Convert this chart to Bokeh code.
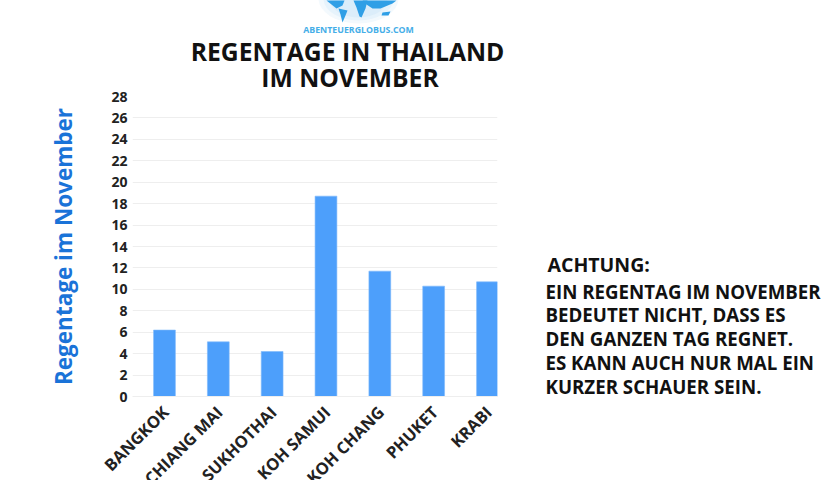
from bokeh.plotting import figure
from bokeh.models import Range1d, FixedTicker, ColumnDataSource
from bokeh.core.properties import value
from bokeh.embed import file_html
from bokeh.resources import INLINE

cities = ["BANGKOK", "CHIANG MAI", "SUKHOTHAI", "KOH SAMUI", "KOH CHANG", "PHUKET", "KRABI"]
rain_days = [6.2, 5.1, 4.2, 18.7, 11.7, 10.3, 10.7]
y_ticks = list(range(0, 30, 2))
title_lines = ["REGENTAGE IN THAILAND", "IM NOVEMBER"]
y_title = "Regentage im November"
logo_text = "ABENTEUERGLOBUS.COM"
note_head = "ACHTUNG:"
note_lines = ["EIN REGENTAG IM NOVEMBER", "BEDEUTET NICHT, DASS ES", "DEN GANZEN TAG REGNET.",
              "ES KANN AUCH NUR MAL EIN", "KURZER SCHAUER SEIN."]

W, H = 840, 480
FONT = "Open Sans"
X0, X1, Y0, Y1 = -0.594, 6.186, 0, 28
L, R, T, B = 132, 497, 96, 396
dx = lambda px: X0 + (px - L) / (R - L) * (X1 - X0)
dy = lambda py: Y0 + (B - py) / (B - T) * (Y1 - Y0)

idx = list(range(len(cities)))
p = figure(width=W, height=H, output_backend="svg", toolbar_location=None,
           x_range=Range1d(X0, X1), y_range=Range1d(Y0, Y1),
           min_border_left=L, min_border_right=W - R, min_border_top=T, min_border_bottom=H - B)
p.outline_line_color = None
p.background_fill_color = "white"
p.border_fill_color = "white"

p.vbar(x=idx, top=rain_days, width=0.405, color="#4d9ffb", line_color="#7db8fb", line_width=0.6)

p.xgrid.visible = False
p.ygrid.grid_line_color = "#eeeeee"
p.ygrid.ticker = FixedTicker(ticks=y_ticks)

ya = p.yaxis[0]
ya.ticker = FixedTicker(ticks=y_ticks)
ya.axis_line_color = None
ya.major_tick_line_color = None
ya.minor_tick_line_color = None
ya.major_tick_out = 0
ya.major_label_text_font = FONT
ya.major_label_text_font_style = "bold"
ya.major_label_text_font_size = "14px"
ya.major_label_text_color = "#222222"
ya.major_label_standoff = 5
ya.axis_label = y_title
ya.axis_label_text_font = FONT
ya.axis_label_text_font_style = "bold"
ya.axis_label_text_font_size = "22.5px"
ya.axis_label_text_color = "#1a73d8"
ya.axis_label_standoff = 29

xa = p.xaxis[0]
xa.ticker = FixedTicker(ticks=[])
xa.axis_line_color = "#eeeeee"
xa.major_tick_line_color = None
xa.minor_tick_line_color = None
xa.major_tick_out = 0
xa.major_label_standoff = 0

src = ColumnDataSource(dict(x=idx, y=[0] * len(idx), t=cities))
p.text(x="x", y="y", text="t", source=src, angle=45, angle_units="deg", text_align="right",
       text_baseline="middle", x_offset=1, y_offset=12.5, text_font=value(FONT),
       text_font_style="bold", text_font_size="16.5px", text_color="#222222", level="overlay")


def label(txt, x, y, size, color="#111111", align="left"):
    p.text(x=[dx(x)], y=[dy(y)], text=[txt], text_font=value(FONT), text_font_size=size,
           text_font_style="bold", text_color=color, text_align=align,
           text_baseline="middle", level="overlay")


# logo: pale globe with continents
for w, h, a in [(80, 50, 0.25), (70, 44, 0.35), (58, 38, 0.5)]:
    p.ellipse(x=[dx(358)], y=[dy(-2)], width=w / (R - L) * (X1 - X0), height=h / (B - T) * (Y1 - Y0),
              fill_color="#cfe8f8", fill_alpha=a, line_color=None, level="overlay")
for xs, ys in [([326, 344, 342, 336, 331], [0, 0, 5, 8, 4]),
               ([338, 347, 345, 342, 340], [8, 10, 15, 22, 14]),
               ([353, 367, 365, 361, 359, 356], [0, 0, 8, 17, 16, 7]),
               ([362, 396, 392, 380, 372, 366], [0, 0, 3, 8, 8, 4]),
               ([382, 390, 388, 381], [12, 11, 15, 15])]:
    p.patch(x=[dx(v) for v in xs], y=[dy(v) for v in ys], fill_color="#2f9fe6", line_color=None, level="overlay")

for t, y, cx in zip(title_lines, [50.5, 76.5], [347, 349.5]):
    label(t, cx, y, "24.7px", align="center")
label(logo_text, 358, 29, "8.8px", color="#45aee8", align="center")
label(note_head, 547, 264, "19.5px")
for t, y in zip(note_lines, [291, 314, 338, 362, 386]):
    label(t, 545, y, "18.7px")

open("out.html", "w").write(file_html(p, INLINE))
